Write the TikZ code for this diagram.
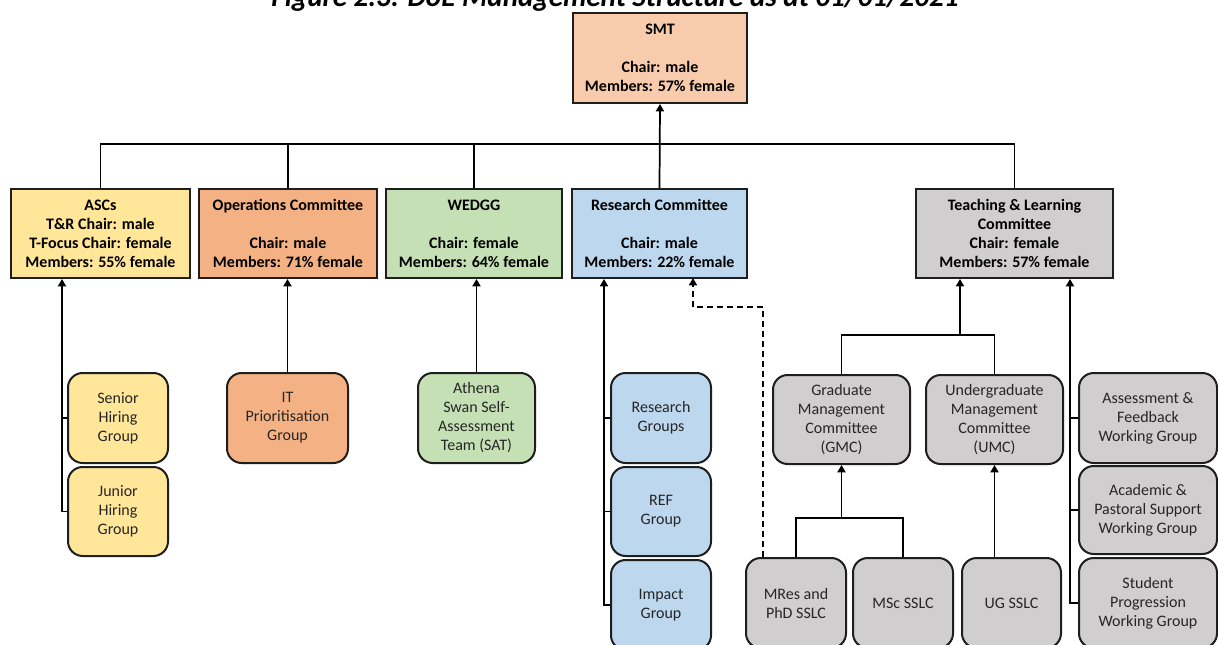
\documentclass[tikz,border=0pt]{standalone}
\usepackage{fontspec}
\setmainfont{Carlito}
\usetikzlibrary{arrows.meta}
\definecolor{csmt}{HTML}{F8CBAD}
\definecolor{cyel}{HTML}{FFE699}
\definecolor{cora}{HTML}{F4B183}
\definecolor{cgrn}{HTML}{C5E0B4}
\definecolor{cblu}{HTML}{BDD7EE}
\definecolor{cgry}{HTML}{D0CECE}
\definecolor{edge}{HTML}{1E1E1E}
\begin{document}
\begin{tikzpicture}[x=0.75pt,y=-0.75pt,
  box/.style={draw=edge, line width=1.5pt, align=center, inner sep=0pt,
    text=black!85, font=\fontsize{12}{14.25}\selectfont},
  topbox/.style={box, text=black, font=\bfseries\fontsize{12}{14.25}\selectfont},
  kid/.style={box, rounded corners=11pt},
  sz/.style 2 args={minimum width=#1*0.75pt, minimum height=#2*0.75pt},
  conn/.style={draw=black, line width=1.3pt},
  arr/.style={conn, -{Triangle[length=5.5pt,width=6pt]}},
  dsh/.style={arr, dash pattern=on 4.5pt off 3pt}
]
\useasboundingbox (0,0) rectangle (1218,644);
\clip (0,0) rectangle (1218,644);
\fill[white] (0,0) rectangle (1218,644);

% title (cut off at top, as in the reference)
\node[anchor=base, inner sep=0pt, font=\bfseries\itshape\fontsize{21.8}{26}\selectfont] (title) at (615,6) {Figure 2.3: DoE Management Structure as at 01/01/2021};

% top boxes
\node[topbox, fill=csmt, sz={174}{90}] (smt) at (660,58) {SMT\\~\\Chair: male\\Members: 57\% female};
\node[topbox, fill=cyel, sz={179}{89}] (asc) at (100.5,233.5) {ASCs\\T\&R Chair: male\\T-Focus Chair: female\\Members: 55\% female};
\node[topbox, fill=cora, sz={178}{89}] (ops) at (288,233.5) {Operations Committee\\~\\Chair: male\\Members: 71\% female};
\node[topbox, fill=cgrn, sz={176}{89}] (wedgg) at (474,233.5) {WEDGG\\~\\Chair: female\\Members: 64\% female};
\node[topbox, fill=cblu, sz={175}{89}] (rc) at (659.5,233.5) {Research Committee\\~\\Chair: male\\Members: 22\% female};
\node[topbox, fill=cgry, sz={197}{89}] (tl) at (1014.5,233.5) {Teaching \& Learning\\Committee\\Chair: female\\Members: 57\% female};

% children
\node[kid, fill=cyel, sz={100}{90}] (sh) at (118,418) {Senior\\Hiring\\Group};
\node[kid, fill=cyel, sz={100}{89}] (jh) at (118,511.5) {Junior\\Hiring\\Group};
\node[kid, fill=cora, sz={121}{90}] (it) at (287.5,418) {IT\\Prioritisation\\Group};
\node[kid, fill=cgrn, sz={117}{90}] (ath) at (476.5,418) {Athena\\Swan Self-\\Assessment\\Team (SAT)};
\node[kid, fill=cblu, sz={100}{90}] (rg) at (661,418) {Research\\Groups};
\node[kid, fill=cblu, sz={100}{89}] (ref) at (661,511.5) {REF\\Group};
\node[kid, fill=cblu, sz={100}{90}] (ig) at (661,605) {Impact\\Group};
\node[kid, fill=cgry, sz={137}{89}] (gmc) at (841.5,419.5) {Graduate\\Management\\Committee\\(GMC)};
\node[kid, fill=cgry, sz={137}{89}] (umc) at (994.5,419.5) {Undergraduate\\Management\\Committee\\(UMC)};
\node[kid, fill=cgry, sz={138}{90}] (af) at (1148,418) {Assessment \&\\Feedback\\Working Group};
\node[kid, fill=cgry, sz={138}{88}] (ap) at (1148,510) {Academic \&\\Pastoral Support\\Working Group};
\node[kid, fill=cgry, sz={138}{90}] (sp) at (1148,603) {Student\\Progression\\Working Group};
\node[kid, fill=cgry, sz={100}{90}] (mres) at (796,603) {MRes and\\PhD SSLC};
\node[kid, fill=cgry, sz={100}{90}] (msc) at (903,603) {MSc SSLC};
\node[kid, fill=cgry, sz={99}{90}] (ug) at (1011.5,603) {UG SSLC};

% top bus
\coordinate (bus) at (660,144);
\draw[conn] (asc.north) -- (asc.north |- bus) -- (tl.north |- bus) -- (tl.north);
\draw[conn] (ops.north) -- (ops.north |- bus);
\draw[conn] (wedgg.north) -- (wedgg.north |- bus);
\draw[arr] (rc.north) -- (smt.south);

% ASCs children
\draw[conn] (sh.west) -- ++(-5,0);
\draw[arr] (jh.west) -- ++(-5,0) coordinate (ja) -- (ja |- asc.south);
% Ops
\draw[arr] (it.north) -- (it.north |- ops.south);
% WEDGG
\draw[arr] (ath.north) -- (ath.north |- wedgg.south);
% Research
\draw[conn] (rg.west) -- ++(-6,0);
\draw[conn] (ref.west) -- ++(-6,0);
\draw[arr] (ig.west) -- ++(-6,0) coordinate (ra) -- (ra |- rc.south);
% dashed link
\coordinate (dd) at (763,307);
\coordinate (rcd) at (693,278);
\draw[dsh] (dd |- mres.north) -- (dd) -| (rcd);
% T&L
\draw[conn] (af.west) -- ++(-8,0);
\draw[conn] (ap.west) -- ++(-8,0);
\draw[arr] (sp.west) -- ++(-8,0) coordinate (ta) -- (ta |- tl.south);
\coordinate (tlb) at (960,335);
\draw[conn] (gmc.north) -- (gmc.north |- tlb) -- (umc.north |- tlb) -- (umc.north);
\draw[arr] (tlb) -- (tlb |- tl.south);
% GMC
\coordinate (gb) at (841.5,518);
\draw[conn] (mres.north) -- (mres.north |- gb) -- (msc.north |- gb) -- (msc.north);
\draw[arr] (gb) -- (gmc.south);
% UMC
\draw[arr] (umc.south |- ug.north) -- (umc.south);
\end{tikzpicture}
\end{document}
